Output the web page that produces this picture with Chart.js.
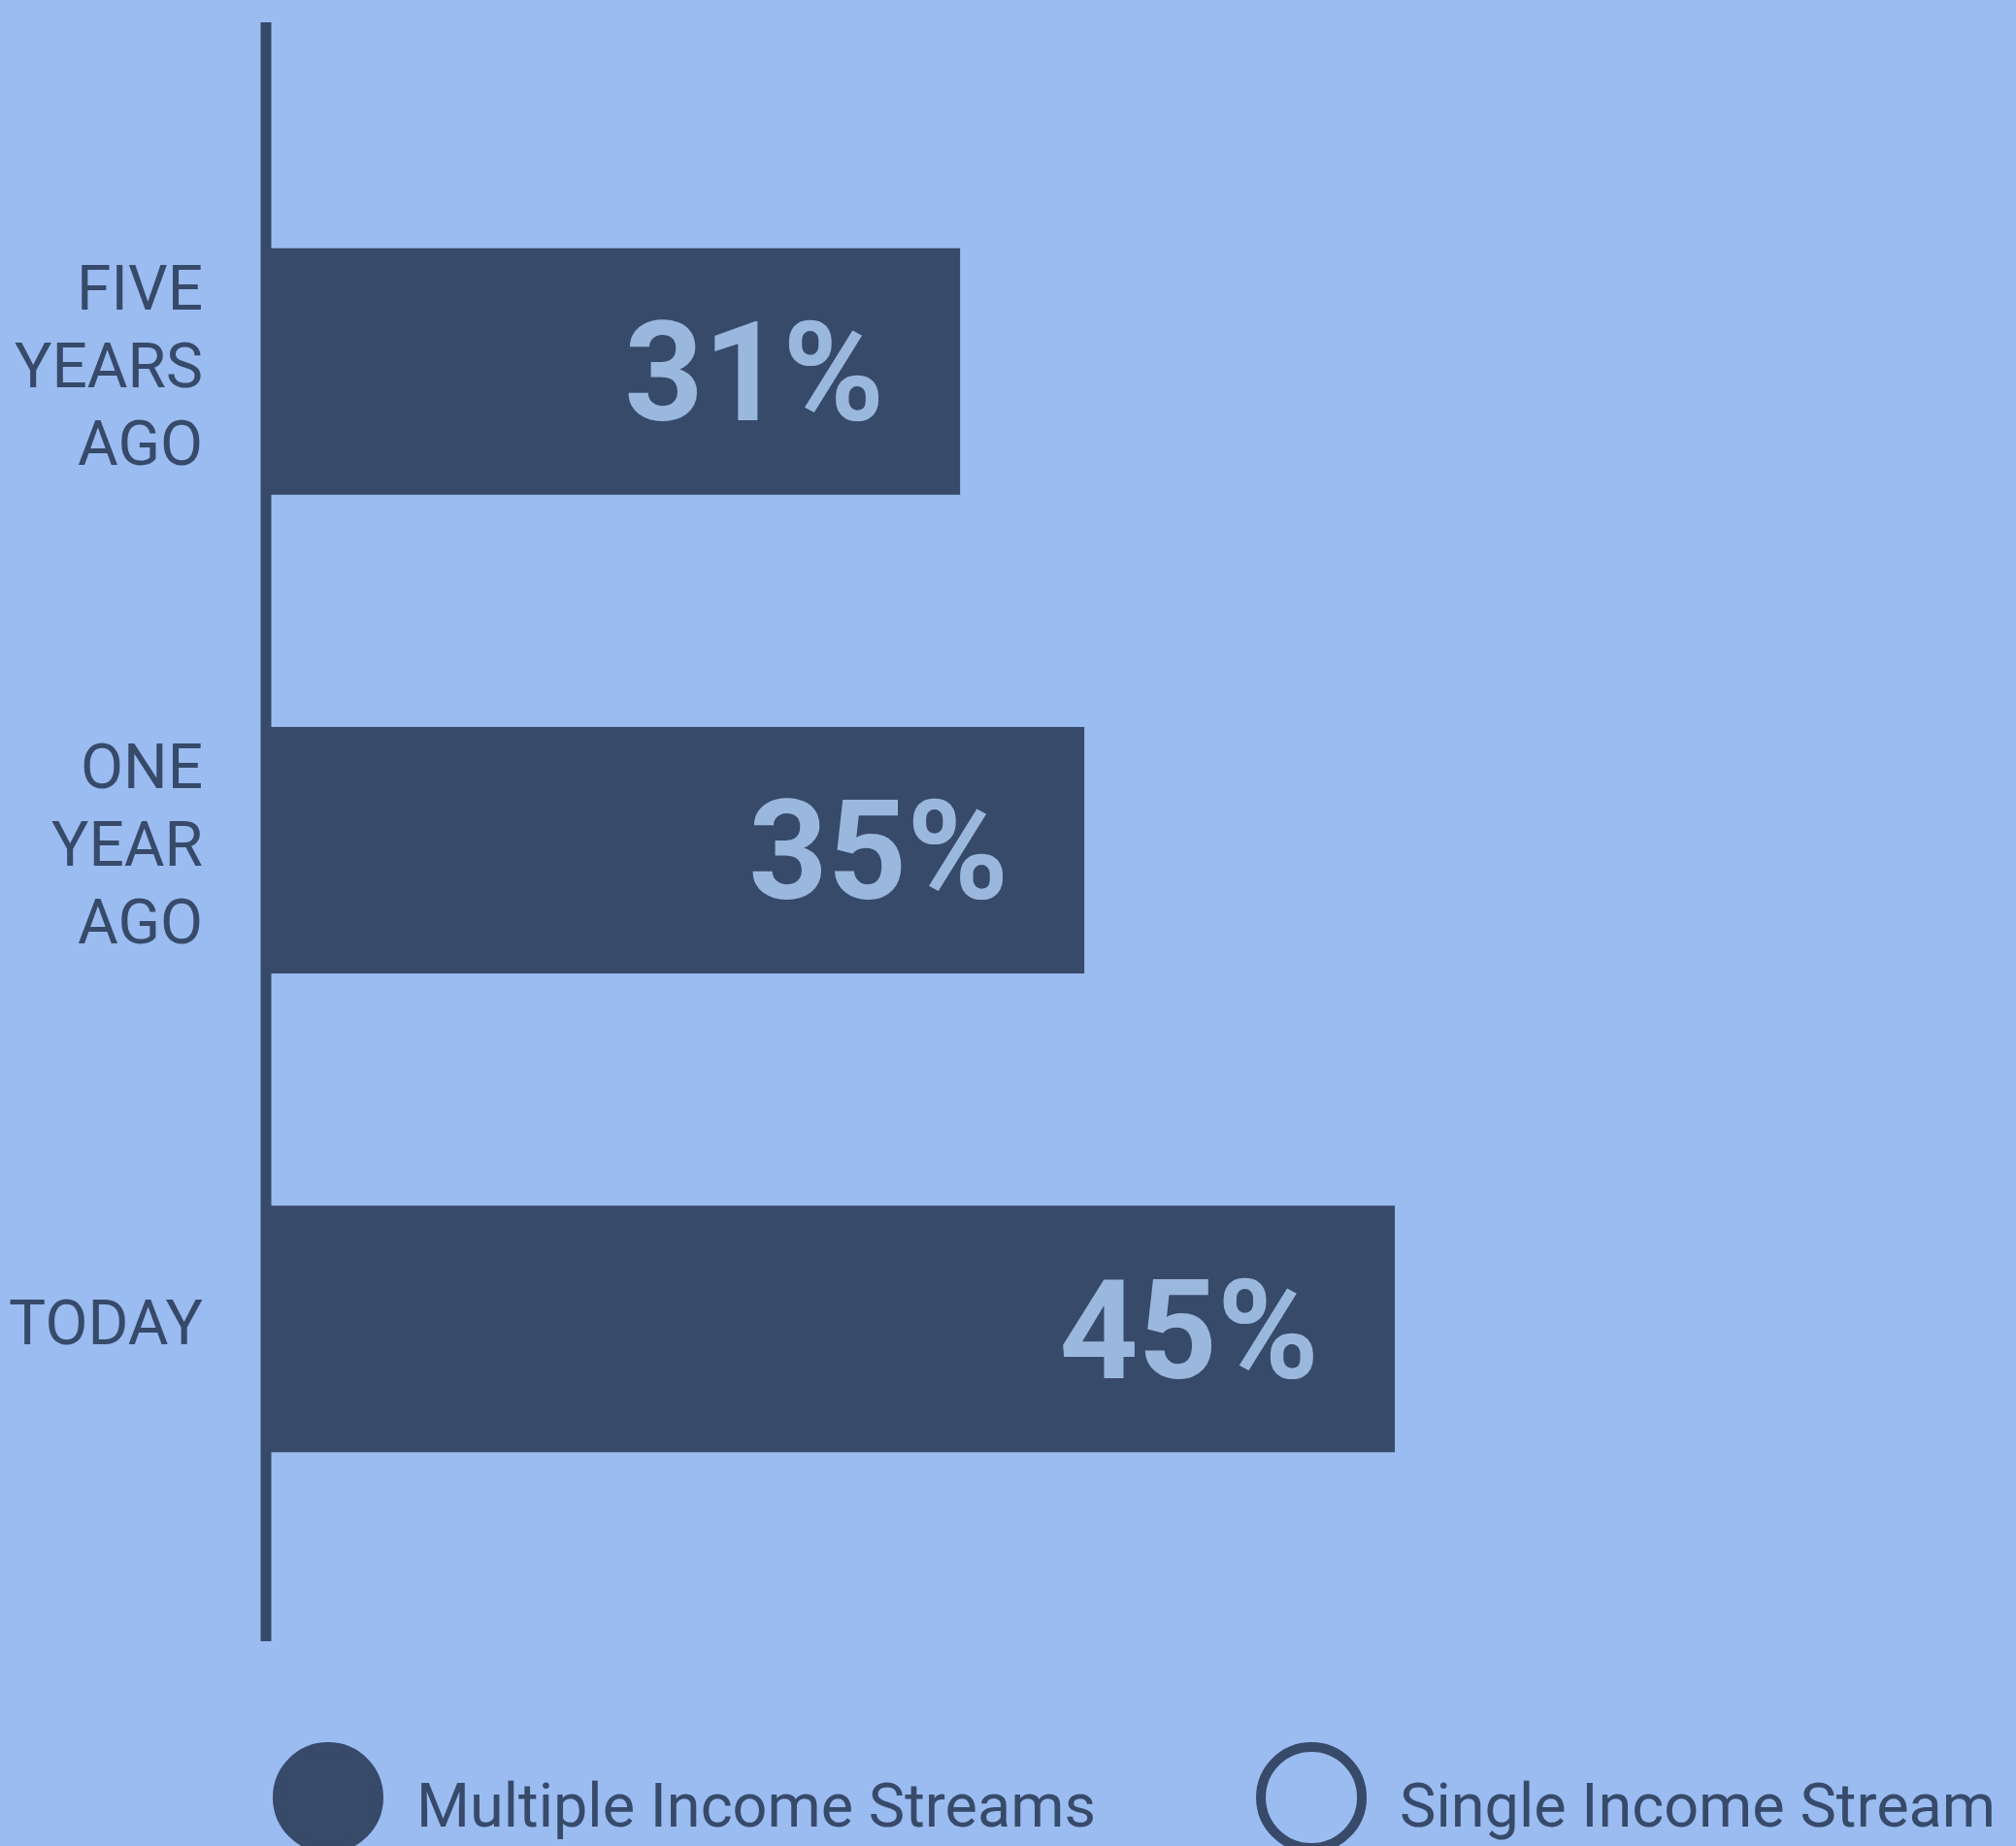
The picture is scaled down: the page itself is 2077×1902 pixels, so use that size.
<!DOCTYPE html>
<html>
<head>
<meta charset="utf-8">
<title>Income streams</title>
<script src="https://cdn.jsdelivr.net/npm/chart.js@4.4.1/dist/chart.umd.min.js"></script>
<style>
  html, body { margin: 0; padding: 0; background: #9bbcf0; overflow: hidden; }
  canvas { display: block; }
</style>
</head>
<body>
<canvas id="incomeChart" width="2077" height="1902"></canvas>
<script>
// ---- data ----
const periods = [['FIVE', 'YEARS', 'AGO'], ['ONE', 'YEAR', 'AGO'], 'TODAY'];
const multipleShare = [31, 35, 45];
const singleShare = [null, null, null];   // no bars shown for this series
const seriesNames = ['Multiple Income Streams', 'Single Income Stream'];

// ---- look ----
const BG = '#9bbcf0';
const NAVY = '#374a6a';
const PALE = '#9ab8de';
const FONT = 'Roboto, "Noto Sans", sans-serif';

Chart.defaults.font.family = FONT;
Chart.defaults.color = NAVY;

// vertical axis line, runs past the bars at both ends
const axisLine = {
  id: 'axisLine',
  beforeDatasetsDraw(chart, args, opts) {
    const { ctx, chartArea } = chart;
    ctx.save();
    ctx.strokeStyle = opts.color;
    ctx.lineWidth = opts.width;
    ctx.beginPath();
    ctx.moveTo(chartArea.left, chartArea.top - opts.above);
    ctx.lineTo(chartArea.left, chartArea.bottom + opts.below);
    ctx.stroke();
    ctx.restore();
  }
};

// big percentage inside the end of each bar
const barValues = {
  id: 'barValues',
  afterDatasetsDraw(chart, args, opts) {
    const { ctx } = chart;
    const values = chart.data.datasets[0].data;
    ctx.save();
    ctx.font = `${opts.weight} ${opts.size}px ${FONT}`;
    ctx.fillStyle = opts.color;
    ctx.textAlign = 'right';
    ctx.textBaseline = 'alphabetic';
    chart.getDatasetMeta(0).data.forEach((bar, i) => {
      ctx.fillText(values[i] + '%', bar.x - opts.inset, bar.y + opts.size * 0.355);
    });
    ctx.restore();
  }
};

// legend: filled / hollow dots with the series names
const dotLegend = {
  id: 'dotLegend',
  afterDraw(chart, args, opts) {
    const { ctx, chartArea } = chart;
    const cy = chart.height - opts.fromBottom;
    let cx = chartArea.left + opts.startX;
    ctx.save();
    ctx.font = `${opts.size}px ${FONT}`;
    ctx.textBaseline = 'alphabetic';
    ctx.textAlign = 'left';
    chart.data.datasets.forEach(ds => {
      ctx.beginPath();
      ctx.arc(cx, cy, opts.radius, 0, Math.PI * 2);
      ctx.fillStyle = ds.backgroundColor;
      ctx.fill();
      ctx.lineWidth = opts.stroke;
      ctx.strokeStyle = ds.borderColor;
      ctx.stroke();
      const tx = cx + opts.radius + opts.stroke / 2 + opts.textGap;
      ctx.fillStyle = opts.color;
      ctx.fillText(ds.label, tx, cy + opts.size * 0.48);
      cx = tx + ctx.measureText(ds.label).width + opts.itemGap + opts.radius + opts.stroke / 2;
    });
    ctx.restore();
  }
};

new Chart(document.getElementById('incomeChart'), {
  type: 'bar',
  data: {
    labels: periods,
    datasets: [
      { label: seriesNames[0], data: multipleShare, backgroundColor: NAVY, borderColor: NAVY },
      { label: seriesNames[1], data: singleShare, backgroundColor: 'rgba(0,0,0,0)', borderColor: NAVY }
    ]
  },
  options: {
    indexAxis: 'y',
    responsive: false,
    devicePixelRatio: 1,
    animation: false,
    layout: { padding: { top: 136, right: 40, bottom: 286, left: 0 } },
    datasets: {
      bar: { skipNull: true, categoryPercentage: 1, barPercentage: 0.515, borderWidth: 0 }
    },
    scales: {
      x: { display: false, min: 8.65, max: 63.75 },
      y: {
        grid: { display: false, drawTicks: false },
        border: { display: false },
        ticks: { padding: 65, color: NAVY, font: { size: 64, lineHeight: 1.25 } },
        afterFit(scale) { scale.width = 274; }
      }
    },
    plugins: {
      legend: { display: false },
      tooltip: { enabled: false },
      axisLine: { color: NAVY, width: 11, above: 113, below: 75 },
      barValues: { color: PALE, size: 142, weight: 'bold', inset: 78 },
      dotLegend: { color: NAVY, size: 63, radius: 52, stroke: 10, startX: 64, fromBottom: 50, textGap: 34, itemGap: 165 }
    }
  },
  plugins: [axisLine, barValues, dotLegend]
});
</script>
</body>
</html>
